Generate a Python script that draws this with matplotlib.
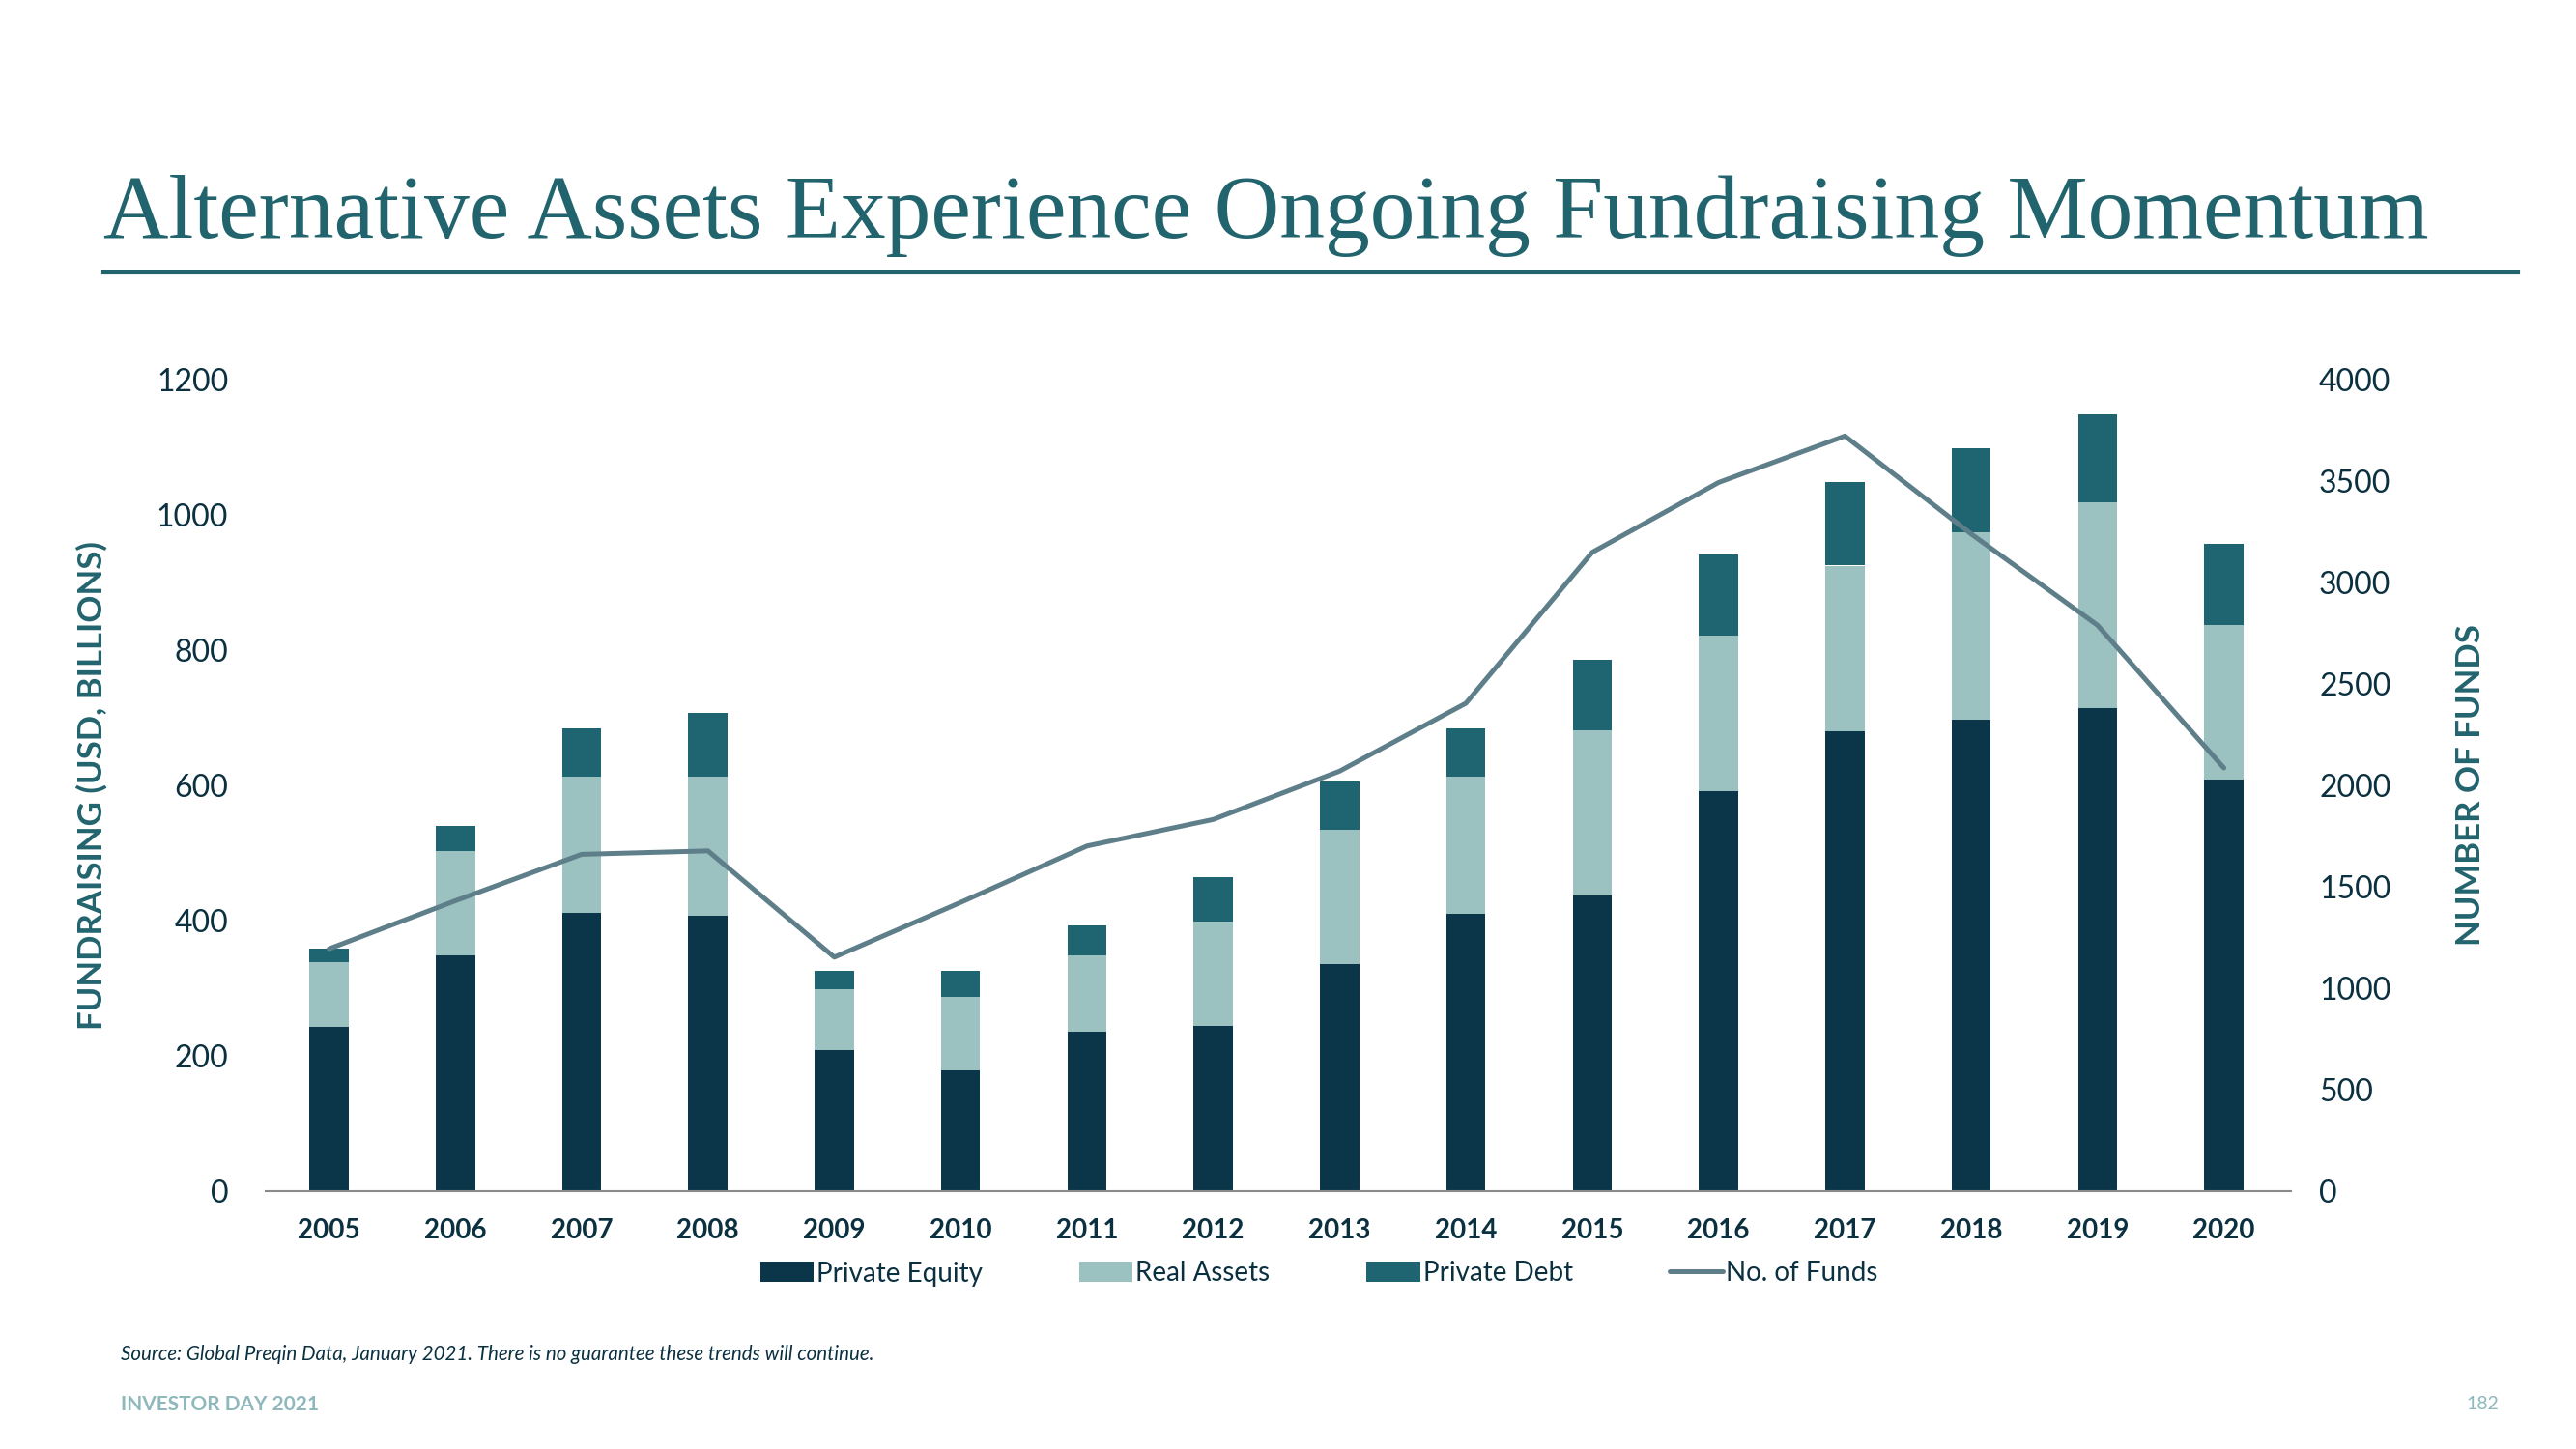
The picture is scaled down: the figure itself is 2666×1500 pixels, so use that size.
import numpy as np
import matplotlib
matplotlib.use('Agg')
import matplotlib.pyplot as plt

# data
years = ['2005', '2006', '2007', '2008', '2009', '2010', '2011', '2012',
         '2013', '2014', '2015', '2016', '2017', '2018', '2019', '2020']
private_equity = [243, 348, 412, 407, 209, 179, 236, 245, 336, 410, 437, 591, 680, 697, 714, 609]
real_assets = [96, 155, 201, 206, 90, 108, 112, 153, 199, 203, 245, 231, 245, 277, 304, 228]
private_debt = [19, 37, 72, 94, 27, 39, 45, 66, 71, 72, 103, 120, 123, 125, 130, 120]
num_funds = [1194, 1431, 1660, 1677, 1153, 1423, 1701, 1832, 2070, 2405, 3149, 3493, 3722, 3239, 2789, 2086]

left_ticks = [0, 200, 400, 600, 800, 1000, 1200]
right_ticks = [0, 500, 1000, 1500, 2000, 2500, 3000, 3500, 4000]

c_pe = '#0b3649'
c_ra = '#9bc1c1'
c_pd = '#1e6571'
c_line = '#5e7f8a'
c_text = '#0b3040'
c_teal = '#22646e'

plt.rcParams['font.family'] = ['Lato', 'DejaVu Sans']

fig = plt.figure(figsize=(26.66, 15), dpi=100)
ax = fig.add_axes([0.1032, 0.178, 0.7861, 0.56])

x = np.arange(len(years))
pe = np.array(private_equity)
ra = np.array(real_assets)
pd_ = np.array(private_debt)
w = 0.31
ax.bar(x, pe, w, color=c_pe, label='Private Equity', zorder=2)
ax.bar(x, ra, w, bottom=pe, color=c_ra, label='Real Assets', zorder=2)
ax.bar(x, pd_, w, bottom=pe + ra, color=c_pd, label='Private Debt', zorder=2)

ax.set_xlim(-0.5, len(years) - 0.47)
ax.set_ylim(0, 1200)
ax.set_yticks(left_ticks)
ax.set_xticks(x)
ax.set_xticklabels(years, fontsize=20, fontweight='bold', color=c_text)
ax.tick_params(axis='y', length=0, labelsize=23, labelcolor=c_text, pad=28)
ax.tick_params(axis='x', length=0, pad=20)
for s in ['top', 'right', 'left']:
    ax.spines[s].set_visible(False)
ax.spines['bottom'].set_color('#8a8a8a')
ax.spines['bottom'].set_linewidth(1.5)
ax.set_ylabel('FUNDRAISING (USD, BILLIONS)', fontsize=25, fontweight='bold',
              color=c_teal, labelpad=36)

ax2 = ax.twinx()
ax2.plot(x, num_funds, color=c_line, lw=3.6, label='No. of Funds', zorder=3,
         solid_capstyle='round')
ax2.set_ylim(0, 4000)
ax2.set_yticks(right_ticks)
ax2.tick_params(axis='y', length=0, labelsize=23, labelcolor=c_text, pad=21)
for s in ax2.spines.values():
    s.set_visible(False)
ax2.set_ylabel('NUMBER OF FUNDS', fontsize=25, fontweight='bold', color=c_teal,
               rotation=90, labelpad=48)

h1, l1 = ax.get_legend_handles_labels()
h2, l2 = ax2.get_legend_handles_labels()
fig.legend(h1 + h2, l1 + l2, loc='center', bbox_to_anchor=(0.512, 0.121), ncol=4,
           frameon=False, fontsize=20, handlelength=2.0, handleheight=0.8,
           handletextpad=0.1, columnspacing=3.6, labelcolor=c_text)

# title and rule
fig.text(0.0401, 0.836, 'Alternative Assets Experience Ongoing Fundraising Momentum',
         fontsize=67.3, family='Liberation Serif', color=c_teal, ha='left', va='baseline')
fig.add_artist(plt.Line2D([0.0401, 0.9775], [0.812, 0.812], color=c_teal, lw=3))

fig.text(0.047, 0.065, 'Source: Global Preqin Data, January 2021. There is no guarantee these trends will continue.',
         fontsize=14.8, style='italic', color=c_text, ha='left', va='center')
fig.text(0.047, 0.031, 'INVESTOR DAY 2021', fontsize=15, fontweight='bold', color='#8fb8bd',
         ha='left', va='center')
fig.text(0.970, 0.031, '182', fontsize=14, color='#8fb8bd', ha='right', va='center')

fig.savefig('out.png', dpi=100, facecolor='white')
